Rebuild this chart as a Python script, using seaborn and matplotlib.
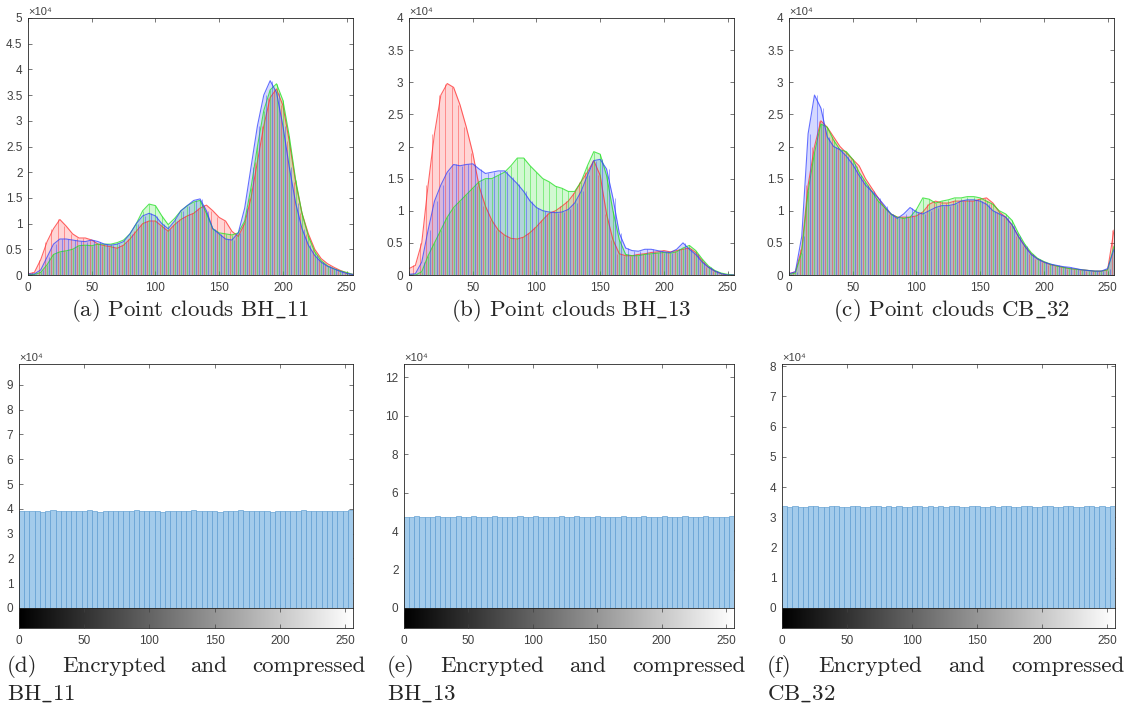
import numpy as np
import pandas as pd
import matplotlib
matplotlib.use("Agg")
import matplotlib.pyplot as plt
import seaborn as sns
from matplotlib.ticker import FuncFormatter, MultipleLocator

# grey levels where the histograms were read (every 5 levels)
levels = np.arange(0, 256, 5)

# ---- top row: RGB histograms of the point clouds (units of 1e4) ----
bh11_r = [0.02, 0.05, 0.30, 0.65, 0.90, 1.08, 0.95, 0.80, 0.72, 0.72, 0.68, 0.60, 0.57, 0.55, 0.52, 0.58,
          0.70, 0.85, 1.00, 1.05, 1.05, 0.95, 0.85, 0.98, 1.08, 1.15, 1.20, 1.30, 1.36, 1.25, 1.12, 1.05,
          0.85, 0.75, 1.00, 1.50, 2.20, 2.90, 3.45, 3.62, 3.30, 2.60, 1.80, 1.20, 0.80, 0.50, 0.32, 0.22,
          0.15, 0.09, 0.04, 0.01]
bh11_g = [0.01, 0.01, 0.05, 0.20, 0.40, 0.45, 0.47, 0.50, 0.57, 0.58, 0.57, 0.60, 0.60, 0.60, 0.63, 0.68,
          0.80, 1.00, 1.25, 1.38, 1.35, 1.15, 0.98, 1.10, 1.25, 1.35, 1.42, 1.45, 1.20, 0.90, 0.82, 0.80,
          0.78, 0.82, 1.05, 1.70, 2.50, 3.20, 3.60, 3.72, 3.40, 2.70, 1.85, 1.20, 0.75, 0.45, 0.28, 0.18,
          0.12, 0.08, 0.05, 0.01]
bh11_b = [0.02, 0.02, 0.10, 0.35, 0.60, 0.70, 0.70, 0.68, 0.66, 0.65, 0.68, 0.65, 0.60, 0.58, 0.60, 0.65,
          0.80, 1.00, 1.15, 1.20, 1.15, 1.00, 0.90, 1.05, 1.25, 1.35, 1.45, 1.48, 1.25, 0.90, 0.80, 0.70,
          0.68, 0.82, 1.30, 2.10, 2.90, 3.50, 3.78, 3.55, 2.90, 2.10, 1.40, 0.90, 0.58, 0.38, 0.25, 0.17,
          0.12, 0.07, 0.03, 0.01]

bh13_r = [0.10, 0.15, 0.50, 1.40, 2.20, 2.80, 2.98, 2.92, 2.65, 2.30, 1.90, 1.38, 1.07, 0.85, 0.70, 0.62,
          0.57, 0.56, 0.59, 0.66, 0.75, 0.86, 0.96, 1.00, 1.07, 1.15, 1.28, 1.45, 1.60, 1.78, 1.55, 0.95,
          0.55, 0.33, 0.30, 0.30, 0.32, 0.33, 0.35, 0.36, 0.38, 0.36, 0.38, 0.40, 0.42, 0.35, 0.22, 0.12,
          0.06, 0.02, 0.00, 0.00]
bh13_g = [0.00, 0.00, 0.05, 0.30, 0.50, 0.70, 0.90, 1.05, 1.15, 1.25, 1.35, 1.45, 1.50, 1.50, 1.55, 1.60,
          1.70, 1.82, 1.82, 1.70, 1.60, 1.50, 1.45, 1.38, 1.35, 1.30, 1.30, 1.45, 1.70, 1.92, 1.88, 1.55,
          1.00, 0.55, 0.32, 0.30, 0.30, 0.32, 0.33, 0.34, 0.35, 0.34, 0.36, 0.42, 0.46, 0.38, 0.25, 0.14,
          0.07, 0.03, 0.01, 0.00]
bh13_b = [0.01, 0.02, 0.20, 0.70, 1.15, 1.40, 1.60, 1.72, 1.70, 1.72, 1.73, 1.65, 1.58, 1.60, 1.62, 1.62,
          1.52, 1.42, 1.30, 1.15, 1.05, 1.00, 0.98, 0.97, 0.98, 1.02, 1.12, 1.30, 1.55, 1.78, 1.80, 1.65,
          1.20, 0.65, 0.42, 0.38, 0.37, 0.40, 0.40, 0.38, 0.36, 0.35, 0.40, 0.50, 0.40, 0.32, 0.20, 0.12,
          0.06, 0.02, 0.00, 0.00]

cb32_r = [0.02, 0.05, 0.40, 1.40, 2.00, 2.40, 2.30, 2.15, 2.00, 1.90, 1.80, 1.70, 1.50, 1.35, 1.20, 1.05,
          0.95, 0.90, 0.90, 0.90, 0.92, 0.98, 1.10, 1.15, 1.12, 1.12, 1.15, 1.15, 1.15, 1.15, 1.18, 1.20,
          1.12, 0.98, 0.90, 0.78, 0.60, 0.45, 0.33, 0.25, 0.20, 0.16, 0.14, 0.12, 0.10, 0.09, 0.08, 0.07,
          0.06, 0.06, 0.08, 0.70]
cb32_g = [0.01, 0.03, 0.35, 1.30, 1.90, 2.35, 2.30, 2.10, 1.95, 1.92, 1.80, 1.60, 1.45, 1.30, 1.15, 1.05,
          0.95, 0.90, 0.88, 0.90, 1.02, 1.20, 1.18, 1.12, 1.15, 1.17, 1.20, 1.20, 1.22, 1.22, 1.20, 1.15,
          1.10, 1.00, 0.95, 0.85, 0.65, 0.48, 0.35, 0.26, 0.21, 0.17, 0.14, 0.12, 0.10, 0.09, 0.08, 0.07,
          0.06, 0.06, 0.08, 0.45]
cb32_b = [0.02, 0.05, 0.60, 2.20, 2.80, 2.60, 2.15, 2.00, 1.95, 1.85, 1.72, 1.55, 1.40, 1.30, 1.20, 1.08,
          0.95, 0.88, 0.95, 1.05, 0.98, 0.95, 1.00, 1.05, 1.08, 1.08, 1.10, 1.15, 1.17, 1.17, 1.15, 1.10,
          1.00, 0.95, 0.90, 0.78, 0.60, 0.45, 0.32, 0.25, 0.20, 0.17, 0.15, 0.13, 0.12, 0.10, 0.08, 0.07,
          0.06, 0.06, 0.10, 0.40]

# ---- bottom row: histograms after encryption+compression (every 4 levels, units of 1e4) ----
levels_enc = np.arange(0, 256, 4)
enc_bh11 = [3.92, 3.90, 3.93, 3.91, 3.89, 3.92, 3.94, 3.91, 3.90, 3.92, 3.93, 3.90, 3.91, 3.94, 3.92, 3.89,
            3.91, 3.93, 3.92, 3.90, 3.92, 3.91, 3.94, 3.90, 3.91, 3.93, 3.92, 3.89, 3.92, 3.90, 3.93, 3.91,
            3.92, 3.94, 3.90, 3.91, 3.92, 3.93, 3.89, 3.91, 3.92, 3.90, 3.94, 3.92, 3.91, 3.90, 3.93, 3.92,
            3.89, 3.91, 3.93, 3.92, 3.90, 3.91, 3.94, 3.92, 3.90, 3.91, 3.93, 3.92, 3.90, 3.91, 3.92, 3.95]
enc_bh13 = [4.76, 4.74, 4.77, 4.75, 4.73, 4.76, 4.78, 4.75, 4.74, 4.76, 4.77, 4.74, 4.75, 4.77, 4.76, 4.73,
            4.75, 4.77, 4.76, 4.74, 4.76, 4.75, 4.77, 4.74, 4.75, 4.77, 4.76, 4.73, 4.76, 4.74, 4.77, 4.75,
            4.76, 4.77, 4.74, 4.75, 4.76, 4.77, 4.73, 4.75, 4.76, 4.74, 4.77, 4.76, 4.75, 4.74, 4.77, 4.76,
            4.73, 4.75, 4.77, 4.76, 4.74, 4.75, 4.77, 4.76, 4.74, 4.75, 4.77, 4.76, 4.74, 4.75, 4.76, 4.78]
enc_cb32 = [3.36, 3.34, 3.37, 3.35, 3.33, 3.36, 3.37, 3.35, 3.34, 3.36, 3.37, 3.34, 3.35, 3.37, 3.36, 3.33,
            3.35, 3.37, 3.36, 3.34, 3.36, 3.35, 3.37, 3.34, 3.35, 3.37, 3.36, 3.33, 3.36, 3.34, 3.37, 3.35,
            3.36, 3.37, 3.34, 3.35, 3.36, 3.37, 3.33, 3.35, 3.36, 3.34, 3.37, 3.36, 3.35, 3.34, 3.37, 3.36,
            3.33, 3.35, 3.37, 3.36, 3.34, 3.35, 3.37, 3.36, 3.34, 3.35, 3.36, 3.38, 3.35, 3.36, 3.35, 3.37]

top_captions = [r"(a) Point clouds BH$\_$11", r"(b) Point clouds BH$\_$13", r"(c) Point clouds CB$\_$32"]
bottom_words = ["Encrypted", "and", "compressed"]
bottom_tags = ["(d)", "(e)", "(f)"]
bottom_names = [r"BH$\_$11", r"BH$\_$13", r"CB$\_$32"]

sns.set_theme(style="ticks")
plt.rcParams.update({
    "font.family": ["Liberation Sans", "DejaVu Sans"],
    "mathtext.fontset": "cm",
    "axes.edgecolor": "#262626",
    "axes.linewidth": 0.6,
    "xtick.direction": "in", "ytick.direction": "in",
    "xtick.top": True, "ytick.right": True,
    "xtick.major.size": 3, "ytick.major.size": 3,
    "xtick.major.width": 0.5, "ytick.major.width": 0.5,
    "xtick.color": "#404040", "ytick.color": "#404040",
    "xtick.labelsize": 8.5, "ytick.labelsize": 8.5,
    "xtick.major.pad": 5, "ytick.major.pad": 4,
})

W, H = 1132, 707
fig = plt.figure(figsize=(W / 100, H / 100), dpi=100)


def px_axes(left, top, right, bottom):
    return fig.add_axes([left / W, 1 - bottom / H, (right - left) / W, (bottom - top) / H])


scale_fmt = FuncFormatter(lambda v, p: f"{v / 1e4:g}")
chan_colors = ["#ff3030", "#20e020", "#3040ff"]
chan_offsets = [-1.6, 0.0, 1.6]
cap_font = ["cmr10", "DejaVu Serif"]
cap_size = 16.5

top_data = [(bh11_r, bh11_g, bh11_b, 5), (bh13_r, bh13_g, bh13_b, 4), (cb32_r, cb32_g, cb32_b, 4)]
top_lefts = [28, 409, 789]
for i, (r, g, b, ymax) in enumerate(top_data):
    ax = px_axes(top_lefts[i], 18, top_lefts[i] + 325, 275)
    for vals, col, off in zip((r, g, b), chan_colors, chan_offsets):
        y = np.array(vals) * 1e4
        ax.fill_between(levels, y, color=col, alpha=0.2, lw=0)
        ax.vlines(levels + off, 0, y, color=col, alpha=0.45, lw=0.7)
        sns.lineplot(x=levels, y=y, color=col, lw=0.8, alpha=0.75, ax=ax)
    ax.set_xlim(0, 255)
    ax.set_ylim(0, ymax * 1e4)
    ax.xaxis.set_major_locator(MultipleLocator(50))
    ax.yaxis.set_major_locator(MultipleLocator(5000))
    ax.yaxis.set_major_formatter(scale_fmt)
    ax.set_xlabel("")
    ax.set_ylabel("")
    ax.text(0, 1.004, "×10⁴", transform=ax.transAxes, fontsize=8,
            color="#404040", va="bottom", ha="left")
    fig.text((top_lefts[i] + 162.5) / W, 1 - 311 / H, top_captions[i], family=cap_font,
             fontsize=cap_size, ha="center", va="center")

bottom_data = [(enc_bh11, 9.84, 1, 19, 353), (enc_bh13, 12.7, 2, 404, 734), (enc_cb32, 8.07, 1, 782, 1115)]
caption_spans = [(7, 365), (387, 745), (767, 1125)]
cap_texts = []
for i, (vals, ymax, step, left, right) in enumerate(bottom_data):
    ax = px_axes(left, 364, right, 608)
    df = pd.DataFrame({"level": levels_enc, "count": np.array(vals) * 1e4})
    sns.histplot(data=df, x="level", weights="count", bins=64, binrange=(0, 256),
                 color="#a3cbeb", alpha=1.0, edgecolor="#5b9bd0", linewidth=0.45, ax=ax)
    ax.set_xlim(0, 256)
    ax.set_ylim(0, ymax * 1e4)
    ax.xaxis.set_major_locator(MultipleLocator(50))
    ax.yaxis.set_major_locator(MultipleLocator(step * 1e4))
    ax.yaxis.set_major_formatter(scale_fmt)
    ax.tick_params(axis="x", labelbottom=False)
    ax.set_xlabel("")
    ax.set_ylabel("")
    ax.text(0, 1.004, "×10⁴", transform=ax.transAxes, fontsize=8,
            color="#404040", va="bottom", ha="left")

    cax = px_axes(left, 608, right, 628)
    cax.imshow(np.arange(256)[None, :], cmap="gray", aspect="auto", extent=(0, 256, 0, 1))
    cax.set_xlim(0, 256)
    cax.set_yticks([])
    cax.tick_params(axis="y", left=False, right=False)
    cax.xaxis.set_major_locator(MultipleLocator(50))
    cax.tick_params(axis="x", top=True, bottom=True, color="#404040")

    x0, x1 = caption_spans[i]
    words = [bottom_tags[i]] + bottom_words
    ts = [fig.text(x0 / W, 1 - 666 / H, w, family=cap_font, fontsize=cap_size,
                   ha="left", va="center") for w in words]
    cap_texts.append((ts, x0 / W, x1 / W))
    fig.text(x0 / W, 1 - 694 / H, bottom_names[i], family=cap_font, fontsize=cap_size,
             ha="left", va="center")

# justify the first caption line of the bottom panels
fig.canvas.draw()
rend = fig.canvas.get_renderer()
for ts, x0, x1 in cap_texts:
    widths = [t.get_window_extent(rend).width / fig.bbox.width for t in ts]
    gap = (x1 - x0 - sum(widths)) / (len(ts) - 1)
    x = x0
    for t, w in zip(ts, widths):
        t.set_x(x)
        x += w + gap

fig.savefig("out.png", dpi=100)
